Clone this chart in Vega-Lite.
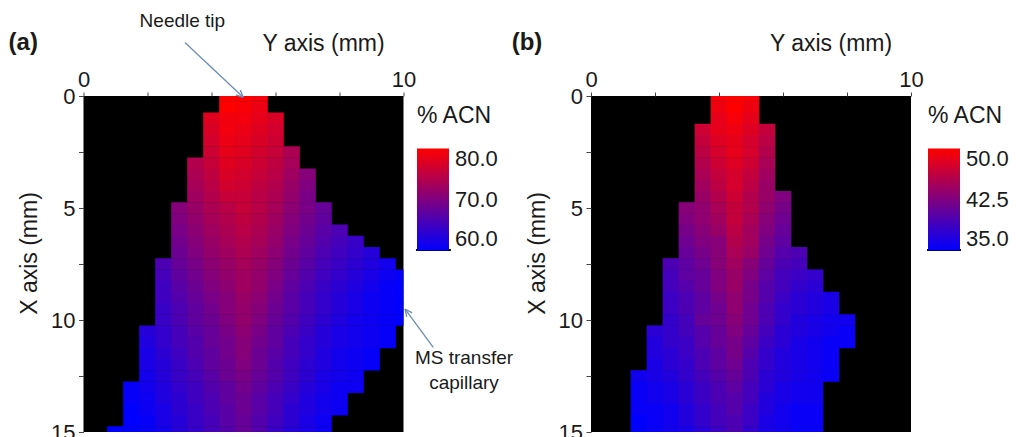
{
  "$schema": "https://vega.github.io/schema/vega-lite/v6.json",
  "background": "white",
  "padding": {"left": 8.5, "top": 12, "right": 5, "bottom": 5},
  "bounds": "flush",
  "spacing": 187.5,
  "resolve": {
    "scale": {"x": "independent", "y": "independent", "color": "independent"},
    "axis": {"x": "independent", "y": "independent"},
    "legend": {"color": "independent"}
  },
  "config": {
    "font": "Liberation Sans",
    "view": {"fill": "#000000", "stroke": null},
    "axis": {"labelFont": "Liberation Sans", "labelFontSize": 22, "labelColor": "#1a1a1a", "titleFont": "Liberation Sans", "titleFontSize": 23, "titleFontWeight": "normal", "titleColor": "#1a1a1a", "tickColor": "#444444", "tickWidth": 1, "domain": false, "grid": false},
    "legend": {"labelFont": "Liberation Sans", "titleFont": "Liberation Sans", "labelFontSize": 22, "titleFontSize": 23, "titleFontWeight": "normal", "titleColor": "#1a1a1a", "labelColor": "#1a1a1a", "gradientStrokeWidth": 0}
  },
  "datasets": {
    "a": [
      {"x":4.5,"y":0,"v":80},{"x":5,"y":0,"v":80},{"x":5.5,"y":0,"v":79},
      {"x":4.5,"y":0.5,"v":80},{"x":5,"y":0.5,"v":79.5},{"x":5.5,"y":0.5,"v":78.5},
      {"x":4,"y":1,"v":77.5},{"x":4.5,"y":1,"v":79},{"x":5,"y":1,"v":79},{"x":5.5,"y":1,"v":78},{"x":6,"y":1,"v":77},
      {"x":4,"y":1.5,"v":77},{"x":4.5,"y":1.5,"v":79},{"x":5,"y":1.5,"v":78.5},{"x":5.5,"y":1.5,"v":77.5},{"x":6,"y":1.5,"v":76.5},
      {"x":4,"y":2,"v":76.5},{"x":4.5,"y":2,"v":78.5},{"x":5,"y":2,"v":78},{"x":5.5,"y":2,"v":77},{"x":6,"y":2,"v":76},
      {"x":4,"y":2.5,"v":76},{"x":4.5,"y":2.5,"v":78},{"x":5,"y":2.5,"v":77.5},{"x":5.5,"y":2.5,"v":76.5},{"x":6,"y":2.5,"v":75.5},{"x":6.5,"y":2.5,"v":73.5},
      {"x":3.5,"y":3,"v":74},{"x":4,"y":3,"v":75.5},{"x":4.5,"y":3,"v":77.5},{"x":5,"y":3,"v":77},{"x":5.5,"y":3,"v":76},{"x":6,"y":3,"v":75},{"x":6.5,"y":3,"v":73},
      {"x":3.5,"y":3.5,"v":73.5},{"x":4,"y":3.5,"v":75},{"x":4.5,"y":3.5,"v":77},{"x":5,"y":3.5,"v":76.5},{"x":5.5,"y":3.5,"v":75.5},{"x":6,"y":3.5,"v":74.5},{"x":6.5,"y":3.5,"v":72.5},{"x":7,"y":3.5,"v":70.5},
      {"x":3.5,"y":4,"v":73},{"x":4,"y":4,"v":74.5},{"x":4.5,"y":4,"v":76.5},{"x":5,"y":4,"v":76},{"x":5.5,"y":4,"v":75},{"x":6,"y":4,"v":74},{"x":6.5,"y":4,"v":72},{"x":7,"y":4,"v":70},
      {"x":3.5,"y":4.5,"v":72.5},{"x":4,"y":4.5,"v":74},{"x":4.5,"y":4.5,"v":75.5},{"x":5,"y":4.5,"v":75.5},{"x":5.5,"y":4.5,"v":74.5},{"x":6,"y":4.5,"v":73.5},{"x":6.5,"y":4.5,"v":71.5},{"x":7,"y":4.5,"v":69.5},
      {"x":3,"y":5,"v":70.5},{"x":3.5,"y":5,"v":72},{"x":4,"y":5,"v":73.5},{"x":4.5,"y":5,"v":74.5},{"x":5,"y":5,"v":75.5},{"x":5.5,"y":5,"v":74.5},{"x":6,"y":5,"v":73},{"x":6.5,"y":5,"v":71},{"x":7,"y":5,"v":69.5},{"x":7.5,"y":5,"v":68},
      {"x":3,"y":5.5,"v":70},{"x":3.5,"y":5.5,"v":71.5},{"x":4,"y":5.5,"v":73},{"x":4.5,"y":5.5,"v":74},{"x":5,"y":5.5,"v":75},{"x":5.5,"y":5.5,"v":74},{"x":6,"y":5.5,"v":72.5},{"x":6.5,"y":5.5,"v":70.5},{"x":7,"y":5.5,"v":69},{"x":7.5,"y":5.5,"v":67.5},
      {"x":3,"y":6,"v":69.5},{"x":3.5,"y":6,"v":71},{"x":4,"y":6,"v":72.5},{"x":4.5,"y":6,"v":73.5},{"x":5,"y":6,"v":74.5},{"x":5.5,"y":6,"v":73.5},{"x":6,"y":6,"v":72},{"x":6.5,"y":6,"v":70},{"x":7,"y":6,"v":68.5},{"x":7.5,"y":6,"v":67},{"x":8,"y":6,"v":66},
      {"x":3,"y":6.5,"v":69},{"x":3.5,"y":6.5,"v":70.5},{"x":4,"y":6.5,"v":72},{"x":4.5,"y":6.5,"v":73},{"x":5,"y":6.5,"v":74},{"x":5.5,"y":6.5,"v":73},{"x":6,"y":6.5,"v":71.5},{"x":6.5,"y":6.5,"v":69.5},{"x":7,"y":6.5,"v":68},{"x":7.5,"y":6.5,"v":66.5},{"x":8,"y":6.5,"v":65.5},{"x":8.5,"y":6.5,"v":64.5},
      {"x":3,"y":7,"v":68.5},{"x":3.5,"y":7,"v":70},{"x":4,"y":7,"v":71.5},{"x":4.5,"y":7,"v":72.5},{"x":5,"y":7,"v":73.5},{"x":5.5,"y":7,"v":72.5},{"x":6,"y":7,"v":71},{"x":6.5,"y":7,"v":69},{"x":7,"y":7,"v":67.5},{"x":7.5,"y":7,"v":66},{"x":8,"y":7,"v":65},{"x":8.5,"y":7,"v":64},{"x":9,"y":7,"v":63},
      {"x":2.5,"y":7.5,"v":66},{"x":3,"y":7.5,"v":68},{"x":3.5,"y":7.5,"v":69.5},{"x":4,"y":7.5,"v":71},{"x":4.5,"y":7.5,"v":72},{"x":5,"y":7.5,"v":73},{"x":5.5,"y":7.5,"v":72},{"x":6,"y":7.5,"v":70.5},{"x":6.5,"y":7.5,"v":68.5},{"x":7,"y":7.5,"v":67},{"x":7.5,"y":7.5,"v":65.5},{"x":8,"y":7.5,"v":64.5},{"x":8.5,"y":7.5,"v":63.5},{"x":9,"y":7.5,"v":62.5},{"x":9.5,"y":7.5,"v":61.5},
      {"x":2.5,"y":8,"v":65.5},{"x":3,"y":8,"v":67.5},{"x":3.5,"y":8,"v":69},{"x":4,"y":8,"v":70.5},{"x":4.5,"y":8,"v":71.5},{"x":5,"y":8,"v":72.5},{"x":5.5,"y":8,"v":71.5},{"x":6,"y":8,"v":70},{"x":6.5,"y":8,"v":68},{"x":7,"y":8,"v":66.5},{"x":7.5,"y":8,"v":65},{"x":8,"y":8,"v":64},{"x":8.5,"y":8,"v":63},{"x":9,"y":8,"v":62},{"x":9.5,"y":8,"v":61},{"x":10,"y":8,"v":60.5},
      {"x":2.5,"y":8.5,"v":65},{"x":3,"y":8.5,"v":67},{"x":3.5,"y":8.5,"v":68.5},{"x":4,"y":8.5,"v":70},{"x":4.5,"y":8.5,"v":71},{"x":5,"y":8.5,"v":72.5},{"x":5.5,"y":8.5,"v":71.5},{"x":6,"y":8.5,"v":69.5},{"x":6.5,"y":8.5,"v":67.5},{"x":7,"y":8.5,"v":66},{"x":7.5,"y":8.5,"v":64.5},{"x":8,"y":8.5,"v":63.5},{"x":8.5,"y":8.5,"v":62.5},{"x":9,"y":8.5,"v":61.5},{"x":9.5,"y":8.5,"v":60.5},{"x":10,"y":8.5,"v":60},
      {"x":2.5,"y":9,"v":65},{"x":3,"y":9,"v":66.5},{"x":3.5,"y":9,"v":68},{"x":4,"y":9,"v":69.5},{"x":4.5,"y":9,"v":70.5},{"x":5,"y":9,"v":72},{"x":5.5,"y":9,"v":71},{"x":6,"y":9,"v":69},{"x":6.5,"y":9,"v":67},{"x":7,"y":9,"v":65.5},{"x":7.5,"y":9,"v":64},{"x":8,"y":9,"v":63},{"x":8.5,"y":9,"v":62},{"x":9,"y":9,"v":61},{"x":9.5,"y":9,"v":60.5},{"x":10,"y":9,"v":60},
      {"x":2.5,"y":9.5,"v":64.5},{"x":3,"y":9.5,"v":66},{"x":3.5,"y":9.5,"v":67.5},{"x":4,"y":9.5,"v":69},{"x":4.5,"y":9.5,"v":70.5},{"x":5,"y":9.5,"v":71.5},{"x":5.5,"y":9.5,"v":70.5},{"x":6,"y":9.5,"v":68.5},{"x":6.5,"y":9.5,"v":67},{"x":7,"y":9.5,"v":65.5},{"x":7.5,"y":9.5,"v":64},{"x":8,"y":9.5,"v":63},{"x":8.5,"y":9.5,"v":62},{"x":9,"y":9.5,"v":61},{"x":9.5,"y":9.5,"v":60.5},{"x":10,"y":9.5,"v":60},
      {"x":2.5,"y":10,"v":64.5},{"x":3,"y":10,"v":66},{"x":3.5,"y":10,"v":67.5},{"x":4,"y":10,"v":68.5},{"x":4.5,"y":10,"v":70},{"x":5,"y":10,"v":71.5},{"x":5.5,"y":10,"v":70},{"x":6,"y":10,"v":68},{"x":6.5,"y":10,"v":66.5},{"x":7,"y":10,"v":65},{"x":7.5,"y":10,"v":63.5},{"x":8,"y":10,"v":62.5},{"x":8.5,"y":10,"v":61.5},{"x":9,"y":10,"v":61},{"x":9.5,"y":10,"v":60.5},{"x":10,"y":10,"v":60},
      {"x":2,"y":10.5,"v":63},{"x":2.5,"y":10.5,"v":64},{"x":3,"y":10.5,"v":65.5},{"x":3.5,"y":10.5,"v":67},{"x":4,"y":10.5,"v":68},{"x":4.5,"y":10.5,"v":69.5},{"x":5,"y":10.5,"v":71},{"x":5.5,"y":10.5,"v":69.5},{"x":6,"y":10.5,"v":67.5},{"x":6.5,"y":10.5,"v":66},{"x":7,"y":10.5,"v":64.5},{"x":7.5,"y":10.5,"v":63},{"x":8,"y":10.5,"v":62},{"x":8.5,"y":10.5,"v":61.5},{"x":9,"y":10.5,"v":61},{"x":9.5,"y":10.5,"v":60.5},
      {"x":2,"y":11,"v":62.5},{"x":2.5,"y":11,"v":64},{"x":3,"y":11,"v":65.5},{"x":3.5,"y":11,"v":66.5},{"x":4,"y":11,"v":68},{"x":4.5,"y":11,"v":69},{"x":5,"y":11,"v":70.5},{"x":5.5,"y":11,"v":69},{"x":6,"y":11,"v":67.5},{"x":6.5,"y":11,"v":65.5},{"x":7,"y":11,"v":64},{"x":7.5,"y":11,"v":63},{"x":8,"y":11,"v":62},{"x":8.5,"y":11,"v":61.5},{"x":9,"y":11,"v":61},{"x":9.5,"y":11,"v":60.5},
      {"x":2,"y":11.5,"v":62},{"x":2.5,"y":11.5,"v":63.5},{"x":3,"y":11.5,"v":65},{"x":3.5,"y":11.5,"v":66.5},{"x":4,"y":11.5,"v":67.5},{"x":4.5,"y":11.5,"v":69},{"x":5,"y":11.5,"v":70.5},{"x":5.5,"y":11.5,"v":68.5},{"x":6,"y":11.5,"v":67},{"x":6.5,"y":11.5,"v":65.5},{"x":7,"y":11.5,"v":64},{"x":7.5,"y":11.5,"v":62.5},{"x":8,"y":11.5,"v":61.5},{"x":8.5,"y":11.5,"v":61},{"x":9,"y":11.5,"v":60.5},
      {"x":2,"y":12,"v":62},{"x":2.5,"y":12,"v":63},{"x":3,"y":12,"v":64.5},{"x":3.5,"y":12,"v":66},{"x":4,"y":12,"v":67.5},{"x":4.5,"y":12,"v":68.5},{"x":5,"y":12,"v":70},{"x":5.5,"y":12,"v":68.5},{"x":6,"y":12,"v":66.5},{"x":6.5,"y":12,"v":65},{"x":7,"y":12,"v":63.5},{"x":7.5,"y":12,"v":62.5},{"x":8,"y":12,"v":61.5},{"x":8.5,"y":12,"v":61},{"x":9,"y":12,"v":60.5},
      {"x":2,"y":12.5,"v":61.5},{"x":2.5,"y":12.5,"v":63},{"x":3,"y":12.5,"v":64.5},{"x":3.5,"y":12.5,"v":65.5},{"x":4,"y":12.5,"v":67},{"x":4.5,"y":12.5,"v":68.5},{"x":5,"y":12.5,"v":69.5},{"x":5.5,"y":12.5,"v":68},{"x":6,"y":12.5,"v":66.5},{"x":6.5,"y":12.5,"v":65},{"x":7,"y":12.5,"v":63.5},{"x":7.5,"y":12.5,"v":62},{"x":8,"y":12.5,"v":61.5},{"x":8.5,"y":12.5,"v":61},
      {"x":1.5,"y":13,"v":60.5},{"x":2,"y":13,"v":61.5},{"x":2.5,"y":13,"v":62.5},{"x":3,"y":13,"v":64},{"x":3.5,"y":13,"v":65},{"x":4,"y":13,"v":66.5},{"x":4.5,"y":13,"v":67.5},{"x":5,"y":13,"v":69},{"x":5.5,"y":13,"v":67.5},{"x":6,"y":13,"v":66},{"x":6.5,"y":13,"v":64.5},{"x":7,"y":13,"v":63},{"x":7.5,"y":13,"v":62},{"x":8,"y":13,"v":61},{"x":8.5,"y":13,"v":61},
      {"x":1.5,"y":13.5,"v":60.5},{"x":2,"y":13.5,"v":61},{"x":2.5,"y":13.5,"v":62.5},{"x":3,"y":13.5,"v":63.5},{"x":3.5,"y":13.5,"v":65},{"x":4,"y":13.5,"v":66},{"x":4.5,"y":13.5,"v":67.5},{"x":5,"y":13.5,"v":68.5},{"x":5.5,"y":13.5,"v":67},{"x":6,"y":13.5,"v":65.5},{"x":6.5,"y":13.5,"v":64},{"x":7,"y":13.5,"v":62.5},{"x":7.5,"y":13.5,"v":61.5},{"x":8,"y":13.5,"v":61},
      {"x":1.5,"y":14,"v":60},{"x":2,"y":14,"v":61},{"x":2.5,"y":14,"v":62},{"x":3,"y":14,"v":63.5},{"x":3.5,"y":14,"v":64.5},{"x":4,"y":14,"v":66},{"x":4.5,"y":14,"v":67},{"x":5,"y":14,"v":68.5},{"x":5.5,"y":14,"v":67},{"x":6,"y":14,"v":65.5},{"x":6.5,"y":14,"v":63.5},{"x":7,"y":14,"v":62.5},{"x":7.5,"y":14,"v":61.5},{"x":8,"y":14,"v":61},
      {"x":1.5,"y":14.5,"v":60},{"x":2,"y":14.5,"v":60.5},{"x":2.5,"y":14.5,"v":62},{"x":3,"y":14.5,"v":63},{"x":3.5,"y":14.5,"v":64.5},{"x":4,"y":14.5,"v":65.5},{"x":4.5,"y":14.5,"v":67},{"x":5,"y":14.5,"v":68},{"x":5.5,"y":14.5,"v":66.5},{"x":6,"y":14.5,"v":65},{"x":6.5,"y":14.5,"v":63.5},{"x":7,"y":14.5,"v":62},{"x":7.5,"y":14.5,"v":61},
      {"x":1,"y":15,"v":60},{"x":1.5,"y":15,"v":60},{"x":2,"y":15,"v":60.5},{"x":2.5,"y":15,"v":61.5},{"x":3,"y":15,"v":63},{"x":3.5,"y":15,"v":64},{"x":4,"y":15,"v":65.5},{"x":4.5,"y":15,"v":66.5},{"x":5,"y":15,"v":68},{"x":5.5,"y":15,"v":66.5},{"x":6,"y":15,"v":64.5},{"x":6.5,"y":15,"v":63},{"x":7,"y":15,"v":62},{"x":7.5,"y":15,"v":61}
    ],
    "b": [
      {"x":4,"y":0,"v":49.5},{"x":4.5,"y":0,"v":50},{"x":5,"y":0,"v":49.5},
      {"x":4,"y":0.5,"v":49},{"x":4.5,"y":0.5,"v":50},{"x":5,"y":0.5,"v":49},
      {"x":4,"y":1,"v":48.5},{"x":4.5,"y":1,"v":49.5},{"x":5,"y":1,"v":48.5},
      {"x":3.5,"y":1.5,"v":47},{"x":4,"y":1.5,"v":48.5},{"x":4.5,"y":1.5,"v":49},{"x":5,"y":1.5,"v":48},{"x":5.5,"y":1.5,"v":46.5},
      {"x":3.5,"y":2,"v":46.5},{"x":4,"y":2,"v":48},{"x":4.5,"y":2,"v":48.5},{"x":5,"y":2,"v":47.5},{"x":5.5,"y":2,"v":46},
      {"x":3.5,"y":2.5,"v":46},{"x":4,"y":2.5,"v":47.5},{"x":4.5,"y":2.5,"v":48.5},{"x":5,"y":2.5,"v":47.5},{"x":5.5,"y":2.5,"v":45.5},
      {"x":3.5,"y":3,"v":45.5},{"x":4,"y":3,"v":47},{"x":4.5,"y":3,"v":48},{"x":5,"y":3,"v":47},{"x":5.5,"y":3,"v":45},
      {"x":3.5,"y":3.5,"v":45},{"x":4,"y":3.5,"v":46.5},{"x":4.5,"y":3.5,"v":47.5},{"x":5,"y":3.5,"v":46.5},{"x":5.5,"y":3.5,"v":44.5},
      {"x":3.5,"y":4,"v":44.5},{"x":4,"y":4,"v":46},{"x":4.5,"y":4,"v":47.5},{"x":5,"y":4,"v":46},{"x":5.5,"y":4,"v":44},
      {"x":3.5,"y":4.5,"v":44},{"x":4,"y":4.5,"v":45.5},{"x":4.5,"y":4.5,"v":47},{"x":5,"y":4.5,"v":45.5},{"x":5.5,"y":4.5,"v":44},{"x":6,"y":4.5,"v":42.5},
      {"x":3,"y":5,"v":43},{"x":3.5,"y":5,"v":43.5},{"x":4,"y":5,"v":45},{"x":4.5,"y":5,"v":46.5},{"x":5,"y":5,"v":45.5},{"x":5.5,"y":5,"v":43.5},{"x":6,"y":5,"v":42},
      {"x":3,"y":5.5,"v":42.5},{"x":3.5,"y":5.5,"v":43.5},{"x":4,"y":5.5,"v":44.5},{"x":4.5,"y":5.5,"v":46.5},{"x":5,"y":5.5,"v":45},{"x":5.5,"y":5.5,"v":43},{"x":6,"y":5.5,"v":41.5},
      {"x":3,"y":6,"v":42},{"x":3.5,"y":6,"v":43},{"x":4,"y":6,"v":44},{"x":4.5,"y":6,"v":46},{"x":5,"y":6,"v":44.5},{"x":5.5,"y":6,"v":42.5},{"x":6,"y":6,"v":41},
      {"x":3,"y":6.5,"v":41.5},{"x":3.5,"y":6.5,"v":42.5},{"x":4,"y":6.5,"v":43},{"x":4.5,"y":6.5,"v":45.5},{"x":5,"y":6.5,"v":44.5},{"x":5.5,"y":6.5,"v":42},{"x":6,"y":6.5,"v":40.5},
      {"x":3,"y":7,"v":41},{"x":3.5,"y":7,"v":42},{"x":4,"y":7,"v":43},{"x":4.5,"y":7,"v":45},{"x":5,"y":7,"v":44},{"x":5.5,"y":7,"v":41.5},{"x":6,"y":7,"v":40},{"x":6.5,"y":7,"v":39.5},
      {"x":2.5,"y":7.5,"v":39.5},{"x":3,"y":7.5,"v":40.5},{"x":3.5,"y":7.5,"v":41.5},{"x":4,"y":7.5,"v":43},{"x":4.5,"y":7.5,"v":44.5},{"x":5,"y":7.5,"v":43},{"x":5.5,"y":7.5,"v":41},{"x":6,"y":7.5,"v":39.5},{"x":6.5,"y":7.5,"v":39},
      {"x":2.5,"y":8,"v":39},{"x":3,"y":8,"v":40.5},{"x":3.5,"y":8,"v":41},{"x":4,"y":8,"v":42.5},{"x":4.5,"y":8,"v":44},{"x":5,"y":8,"v":42.5},{"x":5.5,"y":8,"v":40.5},{"x":6,"y":8,"v":39},{"x":6.5,"y":8,"v":38.5},{"x":7,"y":8,"v":38},
      {"x":2.5,"y":8.5,"v":39},{"x":3,"y":8.5,"v":40},{"x":3.5,"y":8.5,"v":41},{"x":4,"y":8.5,"v":42.5},{"x":4.5,"y":8.5,"v":44},{"x":5,"y":8.5,"v":42},{"x":5.5,"y":8.5,"v":40},{"x":6,"y":8.5,"v":39},{"x":6.5,"y":8.5,"v":38},{"x":7,"y":8.5,"v":37.5},
      {"x":2.5,"y":9,"v":38.5},{"x":3,"y":9,"v":39.5},{"x":3.5,"y":9,"v":40.5},{"x":4,"y":9,"v":42},{"x":4.5,"y":9,"v":43.5},{"x":5,"y":9,"v":42},{"x":5.5,"y":9,"v":40},{"x":6,"y":9,"v":38.5},{"x":6.5,"y":9,"v":37.5},{"x":7,"y":9,"v":37},{"x":7.5,"y":9,"v":36.5},
      {"x":2.5,"y":9.5,"v":38.5},{"x":3,"y":9.5,"v":39.5},{"x":3.5,"y":9.5,"v":40.5},{"x":4,"y":9.5,"v":41.5},{"x":4.5,"y":9.5,"v":43.5},{"x":5,"y":9.5,"v":41.5},{"x":5.5,"y":9.5,"v":39.5},{"x":6,"y":9.5,"v":38},{"x":6.5,"y":9.5,"v":37.5},{"x":7,"y":9.5,"v":37},{"x":7.5,"y":9.5,"v":36.5},
      {"x":2.5,"y":10,"v":38},{"x":3,"y":10,"v":39},{"x":3.5,"y":10,"v":41},{"x":4,"y":10,"v":41.5},{"x":4.5,"y":10,"v":43},{"x":5,"y":10,"v":41.5},{"x":5.5,"y":10,"v":39.5},{"x":6,"y":10,"v":38},{"x":6.5,"y":10,"v":37},{"x":7,"y":10,"v":36.5},{"x":7.5,"y":10,"v":36},{"x":8,"y":10,"v":36},
      {"x":2,"y":10.5,"v":37.5},{"x":2.5,"y":10.5,"v":38},{"x":3,"y":10.5,"v":39},{"x":3.5,"y":10.5,"v":40},{"x":4,"y":10.5,"v":41},{"x":4.5,"y":10.5,"v":42.5},{"x":5,"y":10.5,"v":41},{"x":5.5,"y":10.5,"v":39},{"x":6,"y":10.5,"v":37.5},{"x":6.5,"y":10.5,"v":37},{"x":7,"y":10.5,"v":36.5},{"x":7.5,"y":10.5,"v":36},{"x":8,"y":10.5,"v":35.5},
      {"x":2,"y":11,"v":37},{"x":2.5,"y":11,"v":38},{"x":3,"y":11,"v":38.5},{"x":3.5,"y":11,"v":40},{"x":4,"y":11,"v":41},{"x":4.5,"y":11,"v":42},{"x":5,"y":11,"v":40.5},{"x":5.5,"y":11,"v":38.5},{"x":6,"y":11,"v":37.5},{"x":6.5,"y":11,"v":36.5},{"x":7,"y":11,"v":36},{"x":7.5,"y":11,"v":35.5},{"x":8,"y":11,"v":35.5},
      {"x":2,"y":11.5,"v":37},{"x":2.5,"y":11.5,"v":37.5},{"x":3,"y":11.5,"v":38.5},{"x":3.5,"y":11.5,"v":39.5},{"x":4,"y":11.5,"v":40.5},{"x":4.5,"y":11.5,"v":42},{"x":5,"y":11.5,"v":40},{"x":5.5,"y":11.5,"v":38},{"x":6,"y":11.5,"v":37},{"x":6.5,"y":11.5,"v":36.5},{"x":7,"y":11.5,"v":36},{"x":7.5,"y":11.5,"v":35.5},
      {"x":2,"y":12,"v":36.5},{"x":2.5,"y":12,"v":37.5},{"x":3,"y":12,"v":38},{"x":3.5,"y":12,"v":39.5},{"x":4,"y":12,"v":40.5},{"x":4.5,"y":12,"v":41.5},{"x":5,"y":12,"v":39.5},{"x":5.5,"y":12,"v":38},{"x":6,"y":12,"v":37},{"x":6.5,"y":12,"v":36.5},{"x":7,"y":12,"v":36},{"x":7.5,"y":12,"v":35.5},
      {"x":1.5,"y":12.5,"v":36},{"x":2,"y":12.5,"v":36.5},{"x":2.5,"y":12.5,"v":37},{"x":3,"y":12.5,"v":38},{"x":3.5,"y":12.5,"v":39},{"x":4,"y":12.5,"v":40},{"x":4.5,"y":12.5,"v":41},{"x":5,"y":12.5,"v":39.5},{"x":5.5,"y":12.5,"v":37.5},{"x":6,"y":12.5,"v":37},{"x":6.5,"y":12.5,"v":36.5},{"x":7,"y":12.5,"v":36},{"x":7.5,"y":12.5,"v":35.5},
      {"x":1.5,"y":13,"v":35.5},{"x":2,"y":13,"v":36},{"x":2.5,"y":13,"v":36.5},{"x":3,"y":13,"v":37.5},{"x":3.5,"y":13,"v":38.5},{"x":4,"y":13,"v":39.5},{"x":4.5,"y":13,"v":40.5},{"x":5,"y":13,"v":39},{"x":5.5,"y":13,"v":37.5},{"x":6,"y":13,"v":36.5},{"x":6.5,"y":13,"v":36},{"x":7,"y":13,"v":36},
      {"x":1.5,"y":13.5,"v":35.5},{"x":2,"y":13.5,"v":36},{"x":2.5,"y":13.5,"v":36.5},{"x":3,"y":13.5,"v":37.5},{"x":3.5,"y":13.5,"v":38.5},{"x":4,"y":13.5,"v":39.5},{"x":4.5,"y":13.5,"v":40},{"x":5,"y":13.5,"v":39},{"x":5.5,"y":13.5,"v":37},{"x":6,"y":13.5,"v":36.5},{"x":6.5,"y":13.5,"v":36},{"x":7,"y":13.5,"v":36},
      {"x":1.5,"y":14,"v":35.5},{"x":2,"y":14,"v":35.5},{"x":2.5,"y":14,"v":36},{"x":3,"y":14,"v":37},{"x":3.5,"y":14,"v":38},{"x":4,"y":14,"v":39},{"x":4.5,"y":14,"v":40},{"x":5,"y":14,"v":38.5},{"x":5.5,"y":14,"v":37},{"x":6,"y":14,"v":36},{"x":6.5,"y":14,"v":35.5},{"x":7,"y":14,"v":35.5},
      {"x":1.5,"y":14.5,"v":35},{"x":2,"y":14.5,"v":35.5},{"x":2.5,"y":14.5,"v":36},{"x":3,"y":14.5,"v":37},{"x":3.5,"y":14.5,"v":38},{"x":4,"y":14.5,"v":39},{"x":4.5,"y":14.5,"v":39.5},{"x":5,"y":14.5,"v":38.5},{"x":5.5,"y":14.5,"v":36.5},{"x":6,"y":14.5,"v":36},{"x":6.5,"y":14.5,"v":35.5},{"x":7,"y":14.5,"v":35.5},
      {"x":1.5,"y":15,"v":35},{"x":2,"y":15,"v":35.5},{"x":2.5,"y":15,"v":36},{"x":3,"y":15,"v":36.5},{"x":3.5,"y":15,"v":37.5},{"x":4,"y":15,"v":38.5},{"x":4.5,"y":15,"v":39.5},{"x":5,"y":15,"v":38},{"x":5.5,"y":15,"v":36.5},{"x":6,"y":15,"v":36},{"x":6.5,"y":15,"v":35.5},{"x":7,"y":15,"v":35.5}
    ]
  },
  "hconcat": [
    {
      "width": 320,
      "height": 336,
      "layer": [
        {
          "data": {"name": "a"},
          "transform": [
            {"calculate": "datum.x - 0.26", "as": "x0"},
            {"calculate": "datum.x + 0.26", "as": "x1"},
            {"calculate": "datum.y - 0.26", "as": "y0"},
            {"calculate": "datum.y + 0.26", "as": "y1"}
          ],
          "mark": {"type": "rect", "clip": true},
          "encoding": {
            "x": {"field": "x0", "type": "quantitative", "scale": {"domain": [0, 10], "nice": false, "zero": false},
              "axis": {"orient": "top", "title": "Y axis (mm)", "values": [0,0.5,1,1.5,2,2.5,3,3.5,4,4.5,5,5.5,6,6.5,7,7.5,8,8.5,9,9.5,10], "labelExpr": "datum.value % 5 == 0 ? format(datum.value, 'd') : ''", "labelBaseline": "alphabetic", "labelPadding": 6, "tickSize": 4, "labelFlush": false, "labelOverlap": false, "titleX": 239.5, "titleY": -46, "titleAlign": "center", "titleBaseline": "alphabetic"}},
            "x2": {"field": "x1"},
            "y": {"field": "y0", "type": "quantitative", "scale": {"domain": [0, 15], "nice": false, "zero": false, "reverse": true},
              "axis": {"orient": "left", "title": "X axis (mm)", "values": [0,1.25,2.5,3.75,5,6.25,7.5,8.75,10,11.25,12.5,13.75,15], "labelExpr": "datum.value % 5 == 0 ? format(datum.value, 'd') : ''", "tickSize": 5, "labelPadding": 3.5, "labelFlush": false, "labelOverlap": false, "titleAngle": -90, "titleX": -47, "titleY": 157, "titleAlign": "center", "titleBaseline": "alphabetic"}},
            "y2": {"field": "y1"},
            "color": {"field": "v", "type": "quantitative", "scale": {"domain": [60, 80], "range": ["#0000ff", "#ff0000"], "interpolate": "rgb"},
              "legend": {"title": "% ACN", "orient": "none", "legendX": 333.5, "legendY": 8.5, "direction": "vertical", "gradientLength": 102, "gradientThickness": 32, "values": [60, 70, 80], "format": ".1f", "labelBaseline": "middle", "labelOffset": 6, "labelOverlap": false, "padding": 0, "titlePadding": 21}}
          }
        },
        {
          "data": {"values": [
            {"xa": 3.17, "ya": -2.39, "xb": 4.99, "yb": 0.06},
            {"xa": 4.99, "ya": 0.06, "xb": 4.76, "yb": -0.05},
            {"xa": 4.99, "ya": 0.06, "xb": 4.90, "yb": -0.27},
            {"xa": 10.93, "ya": 11.22, "xb": 10.05, "yb": 9.51},
            {"xa": 10.05, "ya": 9.51, "xb": 10.27, "yb": 9.68},
            {"xa": 10.05, "ya": 9.51, "xb": 10.10, "yb": 9.86}
          ]},
          "mark": {"type": "rule", "color": "#6b8db5", "strokeWidth": 1.3},
          "encoding": {
            "x": {"field": "xa", "type": "quantitative", "scale": {"domain": [0, 10], "nice": false, "zero": false}},
            "y": {"field": "ya", "type": "quantitative", "scale": {"domain": [0, 15], "nice": false, "zero": false, "reverse": true}},
            "x2": {"field": "xb"},
            "y2": {"field": "yb"}
          }
        },
        {
          "data": {"values": [{"xa": 10.39, "ya": 6.88, "xb": 11.48, "yb": 6.88}]},
          "mark": {"type": "rule", "color": "#000000", "strokeWidth": 2},
          "encoding": {
            "x": {"field": "xa", "type": "quantitative", "scale": {"domain": [0, 10], "nice": false, "zero": false}},
            "y": {"field": "ya", "type": "quantitative", "scale": {"domain": [0, 15], "nice": false, "zero": false, "reverse": true}},
            "x2": {"field": "xb"},
            "y2": {"field": "yb"}
          }
        },
        {
          "data": {"values": [
            {"x": 3.09, "y": -3.06, "t": "Needle tip"},
            {"x": 11.89, "y": 11.98, "t": "MS transfer"},
            {"x": 11.89, "y": 13.06, "t": "capillary"}
          ]},
          "mark": {"type": "text", "align": "center", "baseline": "alphabetic", "fontSize": 19, "color": "#1a1a1a"},
          "encoding": {
            "x": {"field": "x", "type": "quantitative", "scale": {"domain": [0, 10], "nice": false, "zero": false}},
            "y": {"field": "y", "type": "quantitative", "scale": {"domain": [0, 15], "nice": false, "zero": false, "reverse": true}},
            "text": {"field": "t"}
          }
        },
        {
          "data": {"values": [{"x": -2.34, "y": -2.07, "t": "(a)"}]},
          "mark": {"type": "text", "align": "left", "baseline": "alphabetic", "fontSize": 24, "fontWeight": "bold", "color": "#1a1a1a"},
          "encoding": {
            "x": {"field": "x", "type": "quantitative", "scale": {"domain": [0, 10], "nice": false, "zero": false}},
            "y": {"field": "y", "type": "quantitative", "scale": {"domain": [0, 15], "nice": false, "zero": false, "reverse": true}},
            "text": {"field": "t"}
          }
        }
      ]
    },
    {
      "width": 320,
      "height": 336,
      "layer": [
        {
          "data": {"name": "b"},
          "transform": [
            {"calculate": "datum.x - 0.26", "as": "x0"},
            {"calculate": "datum.x + 0.26", "as": "x1"},
            {"calculate": "datum.y - 0.26", "as": "y0"},
            {"calculate": "datum.y + 0.26", "as": "y1"}
          ],
          "mark": {"type": "rect", "clip": true},
          "encoding": {
            "x": {"field": "x0", "type": "quantitative", "scale": {"domain": [0, 10], "nice": false, "zero": false},
              "axis": {"orient": "top", "title": "Y axis (mm)", "values": [0,0.5,1,1.5,2,2.5,3,3.5,4,4.5,5,5.5,6,6.5,7,7.5,8,8.5,9,9.5,10], "labelExpr": "datum.value % 5 == 0 ? format(datum.value, 'd') : ''", "labelBaseline": "alphabetic", "labelPadding": 6, "tickSize": 4, "labelFlush": false, "labelOverlap": false, "titleX": 239.5, "titleY": -46, "titleAlign": "center", "titleBaseline": "alphabetic"}},
            "x2": {"field": "x1"},
            "y": {"field": "y0", "type": "quantitative", "scale": {"domain": [0, 15], "nice": false, "zero": false, "reverse": true},
              "axis": {"orient": "left", "title": "X axis (mm)", "values": [0,1.25,2.5,3.75,5,6.25,7.5,8.75,10,11.25,12.5,13.75,15], "labelExpr": "datum.value % 5 == 0 ? format(datum.value, 'd') : ''", "tickSize": 5, "labelPadding": 3.5, "labelFlush": false, "labelOverlap": false, "titleAngle": -90, "titleX": -47, "titleY": 157, "titleAlign": "center", "titleBaseline": "alphabetic"}},
            "y2": {"field": "y1"},
            "color": {"field": "v", "type": "quantitative", "scale": {"domain": [35, 50], "range": ["#0000ff", "#ff0000"], "interpolate": "rgb"},
              "legend": {"title": "% ACN", "orient": "none", "legendX": 337, "legendY": 8.5, "direction": "vertical", "gradientLength": 102, "gradientThickness": 32, "values": [35, 42.5, 50], "format": ".1f", "labelBaseline": "middle", "labelOffset": 6, "labelOverlap": false, "padding": 0, "titlePadding": 21}}
          }
        },
        {
          "data": {"values": [{"xa": 10.5, "ya": 6.88, "xb": 11.56, "yb": 6.88}]},
          "mark": {"type": "rule", "color": "#000000", "strokeWidth": 2},
          "encoding": {
            "x": {"field": "xa", "type": "quantitative", "scale": {"domain": [0, 10], "nice": false, "zero": false}},
            "y": {"field": "ya", "type": "quantitative", "scale": {"domain": [0, 15], "nice": false, "zero": false, "reverse": true}},
            "x2": {"field": "xb"},
            "y2": {"field": "yb"}
          }
        },
        {
          "data": {"values": [{"x": -2.48, "y": -2.07, "t": "(b)"}]},
          "mark": {"type": "text", "align": "left", "baseline": "alphabetic", "fontSize": 24, "fontWeight": "bold", "color": "#1a1a1a"},
          "encoding": {
            "x": {"field": "x", "type": "quantitative", "scale": {"domain": [0, 10], "nice": false, "zero": false}},
            "y": {"field": "y", "type": "quantitative", "scale": {"domain": [0, 15], "nice": false, "zero": false, "reverse": true}},
            "text": {"field": "t"}
          }
        }
      ]
    }
  ]
}
